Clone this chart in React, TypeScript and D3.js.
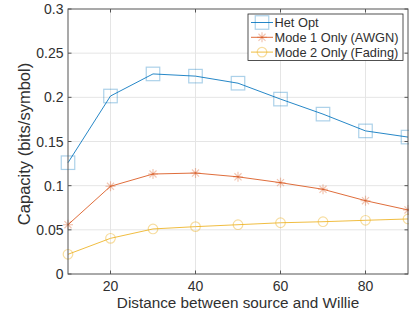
import React from "react";
import * as d3 from "d3";

const distances = [10, 20, 30, 40, 50, 60, 70, 80, 90];
const hetOpt = [0.126, 0.2015, 0.2265, 0.224, 0.216, 0.198, 0.181, 0.162, 0.155];
const mode1 = [0.0558, 0.0993, 0.1132, 0.1143, 0.110, 0.1034, 0.0959, 0.083, 0.0725];
const mode2 = [0.0223, 0.0404, 0.051, 0.0536, 0.0558, 0.058, 0.0592, 0.0608, 0.0623];
const seriesNames = ["Het Opt", "Mode 1 Only (AWGN)", "Mode 2 Only (Fading)"];
const xTicks = [20, 40, 60, 80];
const yTicks = [0, 0.05, 0.1, 0.15, 0.2, 0.25, 0.3];
const xLabel = "Distance between source and Willie";
const yLabel = "Capacity (bits/symbol)";

const W = 409, H = 316;
const L = 68, T = 9, R = 408, B = 274;
const colors = ["#0072BD", "#D95319", "#EDB120"];
const markers = ["square", "star", "circle"];
const textColor = "#303030";
const font = "'Liberation Sans', Arial, Helvetica, sans-serif";

function Marker({ type, x, y, color }: { type: string; x: number; y: number; color: string }) {
  const op = 0.33;
  if (type === "square") {
    const s = 13.5;
    return <rect x={x - s / 2} y={y - s / 2} width={s} height={s} fill="none" stroke={color} strokeOpacity={op} strokeWidth={1.2} />;
  }
  if (type === "circle") {
    return <circle cx={x} cy={y} r={4.8} fill="none" stroke={color} strokeOpacity={op + 0.1} strokeWidth={1.2} />;
  }
  const r = 5;
  const d = r * Math.SQRT1_2;
  return (
    <g stroke={color} strokeOpacity={op} strokeWidth={1.2}>
      <line x1={x - r} y1={y} x2={x + r} y2={y} />
      <line x1={x} y1={y - r} x2={x} y2={y + r} />
      <line x1={x - d} y1={y - d} x2={x + d} y2={y + d} />
      <line x1={x - d} y1={y + d} x2={x + d} y2={y - d} />
    </g>
  );
}

export default function App() {
  const x = d3.scaleLinear().domain([10, 90]).range([L, R]);
  const y = d3.scaleLinear().domain([0, 0.3]).range([B, T]);
  const allSeries = [hetOpt, mode1, mode2];
  const line = d3.line<number>().x((_, i) => x(distances[i])).y((v) => y(v));
  const tickLen = 3.5;
  const fmt = (v: number) => (v === 0 ? "0" : String(+v.toFixed(2)));

  const lgX = 248, lgY = 14, lgW = 155, lgH = 46.5;
  return (
    <svg width={W} height={H} style={{ position: "absolute", left: 0, top: 0, background: "#fff" }} fontFamily={font}>
      <rect x={0} y={0} width={W} height={H} fill="#fff" />
      {/* grid */}
      <g stroke="#e5e5e5" strokeWidth={1}>
        {xTicks.map((t) => (
          <line key={"gx" + t} x1={x(t)} x2={x(t)} y1={T} y2={B} />
        ))}
        {yTicks.slice(1, -1).map((t) => (
          <line key={"gy" + t} x1={L} x2={R} y1={y(t)} y2={y(t)} />
        ))}
      </g>
      {/* series */}
      {allSeries.map((s, si) => (
        <g key={"s" + si}>
          <path d={line(s) || ""} fill="none" stroke={colors[si]} strokeOpacity={0.85} strokeWidth={1} />
          {s.map((v, i) => (
            <Marker key={i} type={markers[si]} x={x(distances[i])} y={y(v)} color={colors[si]} />
          ))}
        </g>
      ))}
      {/* box */}
      <rect x={L} y={T} width={R - L} height={B - T} fill="none" stroke="#555" strokeWidth={1} />
      <g stroke="#555" strokeWidth={1}>
        {xTicks.map((t) => (
          <g key={"tx" + t}>
            <line x1={x(t)} x2={x(t)} y1={B} y2={B - tickLen} />
            <line x1={x(t)} x2={x(t)} y1={T} y2={T + tickLen} />
          </g>
        ))}
        {yTicks.map((t) => (
          <g key={"ty" + t}>
            <line x1={L} x2={L + tickLen} y1={y(t)} y2={y(t)} />
            <line x1={R} x2={R - tickLen} y1={y(t)} y2={y(t)} />
          </g>
        ))}
      </g>
      {/* tick labels */}
      <g fill={textColor} fontSize={14}>
        {xTicks.map((t) => (
          <text key={"lx" + t} x={x(t)} y={B + 17} textAnchor="middle">{t}</text>
        ))}
        {yTicks.map((t) => (
          <text key={"ly" + t} x={L - 4.5} y={y(t) + 5} textAnchor="end">{fmt(t)}</text>
        ))}
      </g>
      <text x={(L + R) / 2} y={307.5} textAnchor="middle" fontSize={15.3} fill={textColor}>{xLabel}</text>
      <text transform={`translate(30,${(T + B) / 2 + 2.5}) rotate(-90)`} textAnchor="middle" fontSize={16.5} fill={textColor}>{yLabel}</text>
      {/* legend */}
      <g>
        <rect x={lgX} y={lgY} width={lgW} height={lgH} fill="#fff" stroke="#262626" strokeWidth={0.8} />
        {seriesNames.map((n, i) => {
          const cy = lgY + 8.5 + i * 14.8;
          return (
            <g key={"lg" + i}>
              <line x1={lgX + 3} x2={lgX + 25} y1={cy} y2={cy} stroke={colors[i]} strokeOpacity={0.85} strokeWidth={1} />
              <Marker type={markers[i]} x={lgX + 14} y={cy} color={colors[i]} />
              <text x={lgX + 26.5} y={cy + 4.6} fontSize={12.8} fill={textColor}>{n}</text>
            </g>
          );
        })}
      </g>
    </svg>
  );
}
